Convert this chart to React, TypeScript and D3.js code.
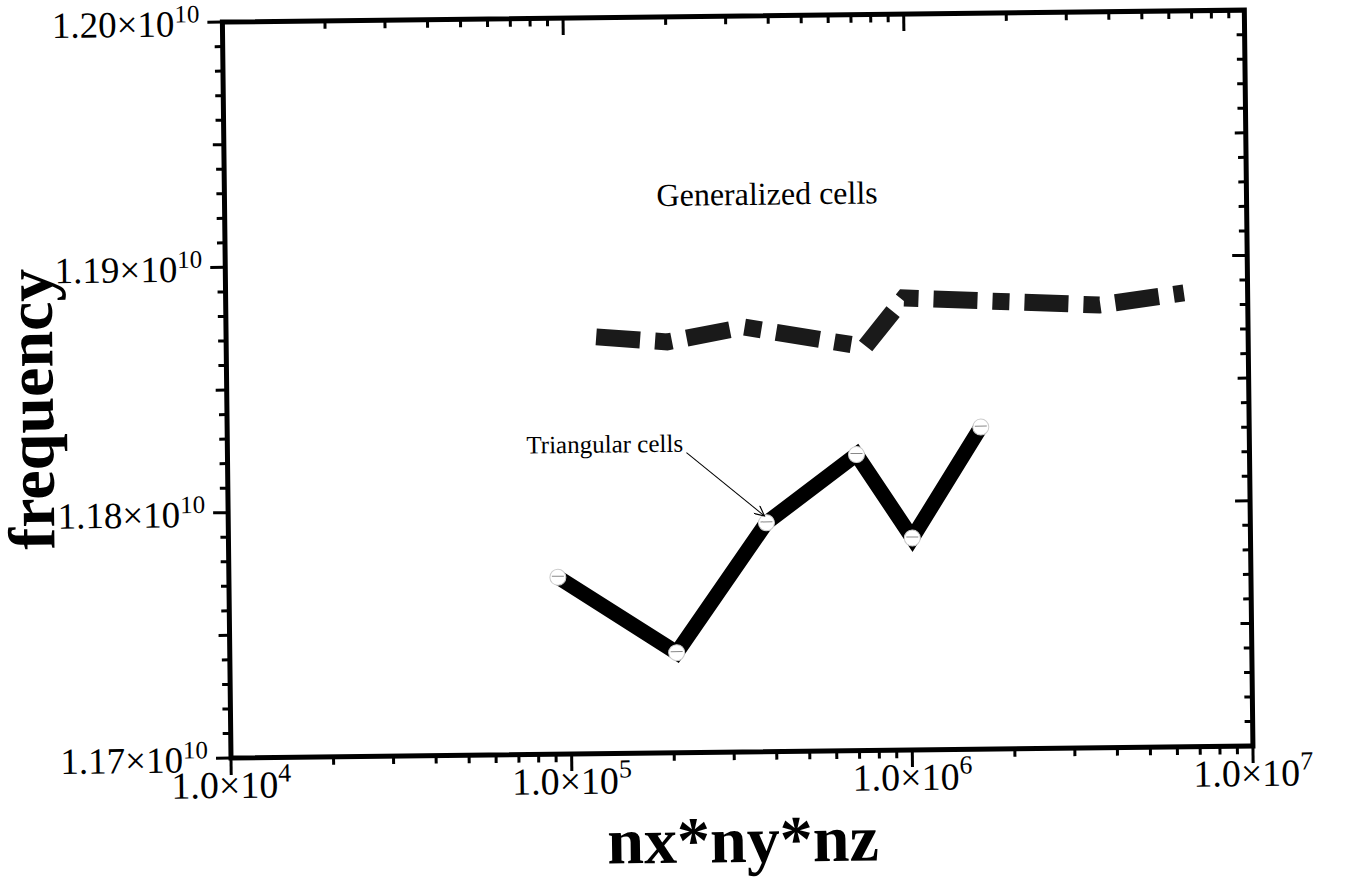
import React, { useEffect, useRef } from "react";
import * as d3 from "d3";

// values
const triX = [9.24e4, 2.05e5, 3.8e5, 7.02e5, 1.017e6, 1.63e6];
const triY = [1.17721e10, 1.17408e10, 1.17933e10, 1.18207e10, 1.17864e10, 1.18313e10];

const genX = [1.22e5, 1.97e5, 3.31e5, 7.5e5, 9.8e5, 3.67e6, 6.5e6];
const genY = [1.18699e10, 1.18675e10, 1.18732e10, 1.18646e10, 1.18843e10, 1.18805e10, 1.1885e10];

const xTicks = [1e4, 1e5, 1e6, 1e7];
const xTickMant = ["1.0", "1.0", "1.0", "1.0"];
const xTickExp = ["4", "5", "6", "7"];

const yTicks = [1.17e10, 1.18e10, 1.19e10, 1.2e10];
const yTickMant = ["1.17", "1.18", "1.19", "1.20"];
const yTickExp = ["10", "10", "10", "10"];

const FONT = "'Liberation Serif', 'DejaVu Serif', serif";

const App = () => {
  const svgRef = useRef<SVGSVGElement>(null);

  useEffect(() => {
    const width = 1350;
    const height = 886;
    const left = 231;
    const top = 22;
    const right = 1253;
    const bottom = 758;

    const svg = d3.select(svgRef.current);
    svg.selectAll("*").remove();
    svg.append("rect").attr("width", width).attr("height", height).attr("fill", "white");

    const x = d3.scaleLog().domain([1e4, 1e7]).range([left, right]);
    const y = d3.scaleLinear().domain([1.17e10, 1.2e10]).range([bottom, top]);

    // the scanned page is slightly tilted
    const g = svg.append("g").attr("transform", `rotate(-0.67, ${left}, ${bottom})`);

    // minor / major ticks
    const xMinor = x.ticks().filter((v) => !xTicks.includes(v));
    const yAll = d3.range(0, 31).map((i) => 1.17e10 + i * 1e7);

    const tickG = g.append("g").attr("stroke", "black").attr("stroke-width", 3);
    // bottom (outward) and top (inward)
    xMinor.forEach((v) => {
      tickG.append("line").attr("x1", x(v)).attr("x2", x(v)).attr("y1", bottom).attr("y2", bottom + 8);
      tickG.append("line").attr("x1", x(v)).attr("x2", x(v)).attr("y1", top).attr("y2", top + 8);
    });
    xTicks.forEach((v) => {
      tickG.append("line").attr("x1", x(v)).attr("x2", x(v)).attr("y1", bottom).attr("y2", bottom + 17);
      tickG.append("line").attr("x1", x(v)).attr("x2", x(v)).attr("y1", top).attr("y2", top + 17);
    });
    // left (outward) and right (inward)
    yAll.forEach((v, i) => {
      const len = i % 10 === 0 ? 15 : i % 5 === 0 ? 11 : 8;
      tickG.append("line").attr("x1", left - len).attr("x2", left).attr("y1", y(v)).attr("y2", y(v));
      tickG.append("line").attr("x1", right - len).attr("x2", right).attr("y1", y(v)).attr("y2", y(v));
    });

    // frame
    g.append("rect")
      .attr("x", left)
      .attr("y", top)
      .attr("width", right - left)
      .attr("height", bottom - top)
      .attr("fill", "none")
      .attr("stroke", "black")
      .attr("stroke-width", 5);

    // y tick labels
    yTicks.forEach((v, i) => {
      const t = g
        .append("text")
        .attr("x", left - 23)
        .attr("y", y(v) + 14)
        .attr("text-anchor", "end")
        .attr("font-family", FONT)
        .attr("font-size", 37);
      t.append("tspan").text(`${yTickMant[i]}×10`);
      t.append("tspan").attr("dy", -14).attr("font-size", 25).text(yTickExp[i]);
    });

    // x tick labels
    xTicks.forEach((v, i) => {
      const t = g
        .append("text")
        .attr("x", x(v))
        .attr("y", bottom + 40)
        .attr("text-anchor", "middle")
        .attr("font-family", FONT)
        .attr("font-size", 38);
      t.append("tspan").text(`${xTickMant[i]}×10`);
      t.append("tspan").attr("dy", -16).attr("font-size", 26).text(xTickExp[i]);
    });

    // axis titles
    g.append("text")
      .attr("x", 742)
      .attr("y", 868)
      .attr("text-anchor", "middle")
      .attr("font-family", FONT)
      .attr("font-weight", "bold")
      .attr("font-size", 66)
      .text("nx*ny*nz");

    g.append("text")
      .attr("transform", `translate(57, 407) rotate(-90)`)
      .attr("text-anchor", "middle")
      .attr("font-family", FONT)
      .attr("font-weight", "bold")
      .attr("font-size", 66)
      .text("frequency");

    const line = d3
      .line<[number, number]>()
      .x((d) => x(d[0]))
      .y((d) => y(d[1]));

    // generalized cells - dashed
    const genData = genX.map((v, i) => [v, genY[i]] as [number, number]);
    g.append("path")
      .attr("d", line(genData))
      .attr("fill", "none")
      .attr("stroke", "#1a1a1a")
      .attr("stroke-width", 17)
      .attr("stroke-dasharray", "44 15 17 15");

    // triangular cells - solid
    const triData = triX.map((v, i) => [v, triY[i]] as [number, number]);
    g.append("path")
      .attr("d", line(triData))
      .attr("fill", "none")
      .attr("stroke", "black")
      .attr("stroke-width", 15)
      .attr("stroke-linejoin", "miter");

    const marks = g
      .selectAll("g.mk")
      .data(triData)
      .join("g")
      .attr("class", "mk")
      .attr("transform", (d) => `translate(${x(d[0])}, ${y(d[1])})`);
    marks.append("circle").attr("r", 8).attr("fill", "white").attr("stroke", "#ccc").attr("stroke-width", 1);
    marks.append("line").attr("x1", -6).attr("x2", 6).attr("y1", -1).attr("y2", -1).attr("stroke", "#888").attr("stroke-width", 1);

    // annotations
    g.append("text")
      .attr("x", 663)
      .attr("y", 211)
      .attr("font-family", FONT)
      .attr("font-size", 32)
      .text("Generalized cells");

    g.append("text")
      .attr("x", 530)
      .attr("y", 457)
      .attr("font-family", FONT)
      .attr("font-size", 25)
      .text("Triangular cells");

    const defs = svg.append("defs");
    defs
      .append("marker")
      .attr("id", "arr")
      .attr("viewBox", "0 0 10 10")
      .attr("refX", 10)
      .attr("refY", 5)
      .attr("markerWidth", 14)
      .attr("markerHeight", 10)
      .attr("markerUnits", "userSpaceOnUse")
      .attr("orient", "auto")
      .append("path")
      .attr("d", "M0,0 L10,5 L0,10")
      .attr("fill", "none")
      .attr("stroke", "black")
      .attr("stroke-width", 1.2);

    g.append("line")
      .attr("x1", 690)
      .attr("y1", 458)
      .attr("x2", x(triX[2]) - 2)
      .attr("y2", y(triY[2]) - 7)
      .attr("stroke", "black")
      .attr("stroke-width", 1)
      .attr("marker-end", "url(#arr)");
  }, []);

  return (
    <svg
      ref={svgRef}
      width={1350}
      height={886}
      style={{ position: "absolute", left: 0, top: 0, display: "block" }}
    ></svg>
  );
};

export default App;
